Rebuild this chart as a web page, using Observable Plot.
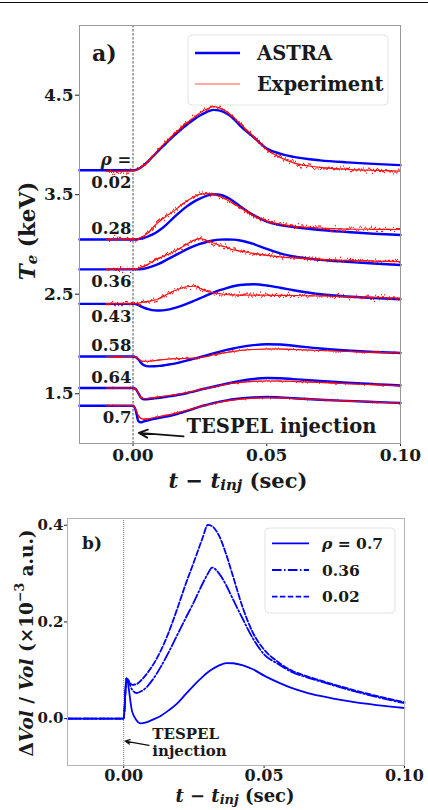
<!DOCTYPE html>
<html>
<head>
<meta charset="utf-8">
<script src="https://cdn.jsdelivr.net/npm/d3@7"></script>
<script src="https://cdn.jsdelivr.net/npm/@observablehq/plot@0.6"></script>
<style>
  html, body { margin: 0; padding: 0; background: #fff; }
  body { width: 428px; height: 810px; position: relative; overflow: hidden; }
  #topRule { position: absolute; left: 0; top: 2px; width: 428px; border-top: 1.5px solid #111; }
  #panelA { position: absolute; left: 0; top: 0; }
  #panelB { position: absolute; left: 0; top: 495px; }
  svg text { font-family: "DejaVu Serif", serif; font-weight: bold; }
</style>
</head>
<body>
<div id="panelA"></div>
<div id="panelB"></div>
<div id="topRule"></div>
<script>
// ---------- panel a: electron temperature, ASTRA vs experiment ----------
const rho = [0.02, 0.28, 0.36, 0.43, 0.58, 0.64, 0.7];
const rhoLabels = ["0.02", "0.28", "0.36", "0.43", "0.58", "0.64", "0.7"];

// time grid of the ASTRA traces (s, relative to injection)
const tA = [-0.02, 0, 0.001, 0.002, 0.003, 0.004, 0.006, 0.008, 0.010, 0.0125, 0.015, 0.0175, 0.020, 0.0225,
  0.025, 0.0275, 0.030, 0.0325, 0.035, 0.0375, 0.040, 0.045, 0.050, 0.055, 0.060, 0.070, 0.080, 0.090, 0.100];
// ASTRA Te (keV)
const astra002 = [3.745, 3.745, 3.748, 3.758, 3.775, 3.795, 3.845, 3.90, 3.955, 4.02, 4.085, 4.145, 4.20, 4.25,
  4.295, 4.33, 4.352, 4.345, 4.315, 4.265, 4.195, 4.08, 3.965, 3.912, 3.88, 3.845, 3.825, 3.81, 3.797];
const astra028 = [3.05, 3.05, 3.05, 3.053, 3.058, 3.065, 3.085, 3.11, 3.145, 3.20, 3.265, 3.325, 3.38, 3.425,
  3.46, 3.488, 3.505, 3.50, 3.475, 3.435, 3.385, 3.295, 3.23, 3.195, 3.175, 3.145, 3.125, 3.108, 3.095];
const astra036 = [2.75, 2.75, 2.75, 2.75, 2.752, 2.756, 2.77, 2.787, 2.81, 2.845, 2.88, 2.915, 2.95, 2.98,
  3.005, 3.025, 3.04, 3.048, 3.05, 3.048, 3.04, 3.005, 2.955, 2.91, 2.88, 2.845, 2.825, 2.808, 2.794];
const astra043 = [2.403, 2.403, 2.40, 2.39, 2.378, 2.365, 2.348, 2.338, 2.336, 2.342, 2.357, 2.378, 2.402, 2.43,
  2.458, 2.488, 2.515, 2.54, 2.562, 2.58, 2.592, 2.60, 2.588, 2.565, 2.54, 2.50, 2.477, 2.462, 2.45];
const astra058 = [1.874, 1.874, 1.868, 1.845, 1.81, 1.788, 1.775, 1.776, 1.78, 1.79, 1.80, 1.815, 1.832, 1.85,
  1.867, 1.886, 1.905, 1.923, 1.94, 1.955, 1.968, 1.988, 1.997, 1.995, 1.982, 1.955, 1.935, 1.92, 1.91];
const astra064 = [1.557, 1.557, 1.548, 1.505, 1.46, 1.445, 1.447, 1.453, 1.46, 1.47, 1.48, 1.492, 1.505, 1.522,
  1.54, 1.555, 1.57, 1.585, 1.60, 1.615, 1.628, 1.648, 1.658, 1.656, 1.647, 1.628, 1.612, 1.597, 1.583];
const astra070 = [1.38, 1.38, 1.335, 1.225, 1.212, 1.222, 1.235, 1.248, 1.258, 1.27, 1.285, 1.305, 1.325, 1.348,
  1.37, 1.388, 1.405, 1.42, 1.433, 1.445, 1.453, 1.463, 1.467, 1.463, 1.455, 1.44, 1.428, 1.417, 1.407];

// time grid of the measured traces
const tE = [-0.01, 0, 0.001, 0.002, 0.003, 0.004, 0.006, 0.008, 0.010, 0.0125, 0.015, 0.0175, 0.020, 0.0225,
  0.025, 0.0275, 0.030, 0.0325, 0.035, 0.0375, 0.040, 0.045, 0.050, 0.055, 0.060, 0.070, 0.080, 0.090, 0.100];
// measured Te (keV)
const exp002 = [3.735, 3.74, 3.745, 3.755, 3.77, 3.79, 3.845, 3.905, 3.965, 4.035, 4.10, 4.16, 4.22, 4.27,
  4.32, 4.36, 4.385, 4.37, 4.335, 4.28, 4.215, 4.085, 3.955, 3.875, 3.82, 3.775, 3.755, 3.745, 3.737];
const exp028 = [3.05, 3.052, 3.055, 3.06, 3.07, 3.085, 3.125, 3.185, 3.235, 3.285, 3.33, 3.385, 3.435, 3.475,
  3.505, 3.51, 3.50, 3.48, 3.45, 3.41, 3.37, 3.29, 3.235, 3.205, 3.185, 3.165, 3.155, 3.152, 3.15];
const exp036 = [2.75, 2.75, 2.752, 2.76, 2.77, 2.78, 2.805, 2.84, 2.865, 2.895, 2.925, 2.96, 3.00, 3.04,
  3.058, 3.04, 3.015, 2.99, 2.97, 2.945, 2.935, 2.91, 2.89, 2.875, 2.865, 2.85, 2.84, 2.833, 2.827];
const exp043 = [2.405, 2.405, 2.405, 2.41, 2.415, 2.42, 2.43, 2.44, 2.46, 2.495, 2.53, 2.555, 2.575, 2.58,
  2.56, 2.53, 2.515, 2.505, 2.497, 2.493, 2.49, 2.49, 2.49, 2.488, 2.487, 2.482, 2.475, 2.468, 2.46];
const exp058 = [1.874, 1.874, 1.868, 1.85, 1.832, 1.826, 1.826, 1.832, 1.84, 1.846, 1.851, 1.853, 1.855, 1.857,
  1.862, 1.875, 1.89, 1.903, 1.915, 1.926, 1.935, 1.945, 1.95, 1.949, 1.945, 1.935, 1.925, 1.916, 1.91];
const exp064 = [1.557, 1.557, 1.548, 1.505, 1.462, 1.452, 1.455, 1.462, 1.47, 1.478, 1.487, 1.497, 1.51, 1.525,
  1.54, 1.555, 1.57, 1.583, 1.595, 1.605, 1.614, 1.624, 1.628, 1.627, 1.624, 1.614, 1.601, 1.59, 1.58];
const exp070 = [1.38, 1.38, 1.345, 1.28, 1.252, 1.245, 1.25, 1.262, 1.272, 1.285, 1.298, 1.315, 1.335, 1.352,
  1.37, 1.386, 1.40, 1.415, 1.428, 1.438, 1.446, 1.456, 1.46, 1.458, 1.452, 1.44, 1.428, 1.417, 1.405];

const teTicks = [1.5, 2.5, 3.5, 4.5];
const timeTicks = [0, 0.05, 0.10];

// ---------- panel b: relative plasma volume change ----------
const tB = [-0.02, 0, 0.001, 0.003, 0.0045, 0.006, 0.008, 0.010, 0.013, 0.016, 0.019, 0.022, 0.025, 0.028,
  0.030, 0.0315, 0.034, 0.0365, 0.039, 0.0425, 0.046, 0.050, 0.055, 0.060, 0.065, 0.070, 0.080, 0.090, 0.100];
const vol070 = [0, 0, 0.083, 0.015, -0.003, -0.010, -0.008, -0.003, 0.005, 0.017, 0.031, 0.050, 0.069, 0.086,
  0.096, 0.102, 0.110, 0.115, 0.1145, 0.110, 0.102, 0.089, 0.075, 0.063, 0.054, 0.047, 0.036, 0.028, 0.022];
const vol036 = [0, 0, 0.083, 0.060, 0.053, 0.056, 0.064, 0.078, 0.105, 0.137, 0.172, 0.207, 0.241, 0.278,
  0.300, 0.3125, 0.300, 0.276, 0.246, 0.205, 0.166, 0.133, 0.113, 0.096, 0.086, 0.077, 0.060, 0.045, 0.032];
const vol002 = [0, 0, 0.083, 0.070, 0.071, 0.078, 0.091, 0.107, 0.138, 0.178, 0.226, 0.277, 0.324, 0.372,
  0.401, 0.398, 0.378, 0.340, 0.293, 0.228, 0.178, 0.143, 0.117, 0.099, 0.088, 0.079, 0.062, 0.047, 0.034];
const volRho = ["0.7", "0.36", "0.02"];
const volTicks = [0, 0.2, 0.4];

// ---------- tables ----------
const astraSets = [astra002, astra028, astra036, astra043, astra058, astra064, astra070];
const expSets = [exp002, exp028, exp036, exp043, exp058, exp064, exp070];
const astraRows = rho.flatMap((r, i) => tA.map((t, j) => ({rho: r, t, te: astraSets[i][j]})));
const expRows = rho.flatMap((r, i) => tE.map((t, j) => ({rho: r, t, te: expSets[i][j]})));
const volSets = [vol070, vol036, vol002];
const volRows = volRho.map((r, i) => tB.map((t, j) => ({rho: r, t, v: volSets[i][j]})));

// each label sits just left of t = 0, above or below its trace's pre-injection level
const labelSide = [-1, 1, -1, -1, 1, 1, -1];
const rhoLabelRows = rho.map((r, i) => ({
  text: rhoLabels[i],
  te: astraSets[i][0] + (labelSide[i] > 0 ? 0.105 : -0.125)
}));
rhoLabelRows.push({text: "ρ =", te: astra002[0] + 0.105});

const SERIF = "'DejaVu Serif', serif";
const BLUE = "#0000ff";
const RED = "#ff0000";
const INK = "#1a1a1a";

// ---------- panel a ----------
const plotA = Plot.plot({
  width: 428, height: 495,
  marginLeft: 79, marginRight: 28, marginTop: 25, marginBottom: 52,
  x: {domain: [-0.02, 0.10]},
  y: {domain: [1.0, 5.2]},
  style: {fontFamily: SERIF, fontWeight: "bold", color: INK, background: "#fff", overflow: "visible"},
  marks: [
    Plot.axisX({ticks: timeTicks, tickFormat: ".2f", tickSize: 3, tickPadding: 2, fontSize: 17, label: null}),
    Plot.axisY({ticks: teTicks, tickFormat: ".1f", tickSize: 4, tickPadding: 2, fontSize: 17, label: null}),
    Plot.ruleX([0], {stroke: "#222", strokeWidth: 0.8, strokeDasharray: "2.5,1.5"}),
    Plot.line(astraRows, {x: "t", y: "te", z: "rho", stroke: BLUE, strokeWidth: 2.4, curve: "monotone-x"}),
    Plot.line(expRows.filter(d => d.rho < 0.5), {x: "t", y: "te", z: "rho", stroke: RED, strokeWidth: 1.2,
      strokeOpacity: 0.9, curve: "monotone-x", ariaDescription: "exp-core"}),
    Plot.line(expRows.filter(d => d.rho > 0.5), {x: "t", y: "te", z: "rho", stroke: RED, strokeWidth: 1.1,
      strokeOpacity: 0.85, curve: "monotone-x", ariaDescription: "exp-edge"}),
    Plot.text(rhoLabelRows, {x: -0.0006, y: "te", text: "text", textAnchor: "end", fontSize: 16.5,
      fontWeight: "bold", fill: INK}),
    Plot.arrow([{x1: 0.0189, y1: 1.072, x2: 0.0022, y2: 1.106}], {x1: "x1", y1: "y1", x2: "x2", y2: "y2",
      stroke: "#111", strokeWidth: 1.8, headLength: 8, headAngle: 50}),
    Plot.text(["TESPEL injection"], {x: 0.0200, y: 1.172, textAnchor: "start", fontSize: 19.5, fontWeight: "bold",
      fill: INK}),
    Plot.frame({stroke: "#999", strokeWidth: 1})
  ]
});
document.getElementById("panelA").append(plotA);

// measurement noise look for the experimental traces: a jittered copy merged with the trace
const svgA = d3.select(plotA);
const defsA = svgA.append("defs");
function jitterFilter(defs, id, scale, seed, w, h) {
  const f = defs.append("filter").attr("id", id).attr("filterUnits", "userSpaceOnUse")
    .attr("x", 0).attr("y", 0).attr("width", w).attr("height", h)
    .attr("color-interpolation-filters", "sRGB");
  f.append("feTurbulence").attr("type", "fractalNoise").attr("baseFrequency", "0.6 0.015")
    .attr("numOctaves", 2).attr("seed", seed).attr("result", "noise");
  f.append("feColorMatrix").attr("in", "noise").attr("type", "matrix")
    .attr("values", "0 0 0 0 0.5  0 1 0 0 0  0 0 1 0 0  0 0 0 0 1").attr("result", "map");
  f.append("feDisplacementMap").attr("in", "SourceGraphic").attr("in2", "map").attr("scale", scale)
    .attr("xChannelSelector", "R").attr("yChannelSelector", "G").attr("result", "shifted");
  const m = f.append("feMerge");
  m.append("feMergeNode").attr("in", "SourceGraphic");
  m.append("feMergeNode").attr("in", "shifted");
}
jitterFilter(defsA, "jitterCore", 10, 4, 428, 495);
jitterFilter(defsA, "jitterEdge", 3, 9, 428, 495);
svgA.selectAll("g[aria-description='exp-core']").attr("filter", "url(#jitterCore)");
svgA.selectAll("g[aria-description='exp-edge']").attr("filter", "url(#jitterEdge)");

// rho = label in italics
svgA.selectAll("text").filter(function () { return this.textContent === "ρ ="; })
  .style("font-style", "italic");

// panel tag
svgA.append("text").attr("x", 92).attr("y", 53).attr("text-anchor", "start").attr("dominant-baseline", "central")
  .style("font-size", "22px").attr("fill", INK).text("a)");

// legend
const legA = svgA.append("g");
legA.append("rect").attr("x", 188).attr("y", 35).attr("width", 200).attr("height", 70).attr("rx", 4)
  .attr("fill", "#fff").attr("fill-opacity", 0.85).attr("stroke", "#e3e3e3");
legA.append("line").attr("x1", 195).attr("x2", 240).attr("y1", 53).attr("y2", 53)
  .attr("stroke", BLUE).attr("stroke-width", 2.4);
legA.append("line").attr("x1", 195).attr("x2", 240).attr("y1", 84).attr("y2", 84)
  .attr("stroke", RED).attr("stroke-opacity", 0.45).attr("stroke-width", 1.4);
legA.append("text").attr("x", 257).attr("y", 53).attr("text-anchor", "start").attr("dominant-baseline", "central")
  .style("font-size", "19.5px").attr("fill", INK).text("ASTRA");
legA.append("text").attr("x", 257).attr("y", 84).attr("text-anchor", "start").attr("dominant-baseline", "central")
  .style("font-size", "19.5px").attr("fill", INK).text("Experiment");

// axis titles
const yTitleA = svgA.append("text").attr("transform", "translate(27,231) rotate(-90)")
  .attr("text-anchor", "middle").attr("dominant-baseline", "central").attr("fill", INK)
  .style("font-size", "21.5px");
yTitleA.append("tspan").style("font-style", "italic").text("T");
yTitleA.append("tspan").style("font-style", "italic").style("font-size", "15px").attr("dy", 5).text("e");
yTitleA.append("tspan").attr("dy", -5).text(" (keV)");

function timeTitle(svg, cx, cy, size, subSize, shift) {
  const t = svg.append("text").attr("x", cx).attr("y", cy).attr("text-anchor", "middle")
    .attr("dominant-baseline", "central").attr("fill", INK).style("font-size", size + "px");
  t.append("tspan").style("font-style", "italic").text("t");
  t.append("tspan").text(" − ");
  t.append("tspan").style("font-style", "italic").text("t");
  t.append("tspan").style("font-style", "italic").style("font-size", subSize + "px").attr("dy", shift).text("inj");
  t.append("tspan").attr("dy", -shift).text(" (sec)");
}
timeTitle(svgA, 238, 480, 21, 15, 5);

// ---------- panel b ----------
const dashes = {"0.7": null, "0.36": "9.6,2.4,1.5,2.4", "0.02": "5.5,2.4"};
const plotB = Plot.plot({
  width: 428, height: 315,
  marginLeft: 67, marginRight: 24, marginTop: 23, marginBottom: 45,
  x: {domain: [-0.02, 0.10]},
  y: {domain: [-0.097, 0.414]},
  style: {fontFamily: SERIF, fontWeight: "bold", color: INK, background: "#fff", overflow: "visible"},
  marks: [
    Plot.axisX({ticks: timeTicks, tickFormat: ".2f", tickSize: 3, tickPadding: 1, fontSize: 16, label: null}),
    Plot.axisY({ticks: volTicks, tickFormat: ".1f", tickSize: 3, tickPadding: 1, fontSize: 15, label: null}),
    Plot.ruleX([0], {stroke: "#444", strokeWidth: 0.7, strokeDasharray: "1,1"}),
    ...volRows.map(rows => Plot.line(rows, {x: "t", y: "v", stroke: BLUE, strokeWidth: 1.8, curve: "monotone-x",
      strokeDasharray: dashes[rows[0].rho]})),
    Plot.arrow([{x1: 0.009, y1: -0.0553, x2: 0.0005, y2: -0.0464}], {x1: "x1", y1: "y1", x2: "x2", y2: "y2",
      stroke: "#111", strokeWidth: 1.3, headLength: 6, headAngle: 50}),
    Plot.text(["TESPEL"], {x: 0.0102, y: -0.0312, textAnchor: "start", fontSize: 15, fontWeight: "bold", fill: INK}),
    Plot.text(["injection"], {x: 0.0102, y: -0.0680, textAnchor: "start", fontSize: 15, fontWeight: "bold", fill: INK}),
    Plot.frame({stroke: "#b3b3b3", strokeWidth: 1})
  ]
});
document.getElementById("panelB").append(plotB);

const svgB = d3.select(plotB);
svgB.append("text").attr("x", 82).attr("y", 48).attr("text-anchor", "start").attr("dominant-baseline", "central")
  .style("font-size", "17px").attr("fill", INK).text("b)");

const legB = svgB.append("g");
legB.append("rect").attr("x", 265).attr("y", 33).attr("width", 130).attr("height", 85).attr("rx", 4)
  .attr("fill", "#fff").attr("fill-opacity", 0.85).attr("stroke", "#e3e3e3");
volRho.forEach((r, i) => {
  const y = 48.3 + i * 26.7;
  legB.append("line").attr("x1", 272).attr("x2", 309).attr("y1", y).attr("y2", y)
    .attr("stroke", BLUE).attr("stroke-width", 1.8).attr("stroke-dasharray", dashes[r]);
  const t = legB.append("text").attr("x", 322).attr("y", y).attr("text-anchor", "start")
    .attr("dominant-baseline", "central").style("font-size", "15.5px").attr("fill", INK);
  if (i === 0) {
    t.append("tspan").style("font-style", "italic").text("ρ");
    t.append("tspan").text(" = " + r);
  } else {
    t.text(r);
  }
});

const yTitleB = svgB.append("text").attr("transform", "translate(26,148) rotate(-90)")
  .attr("text-anchor", "middle").attr("dominant-baseline", "central").attr("fill", INK)
  .style("font-size", "18.5px");
yTitleB.append("tspan").text("Δ");
yTitleB.append("tspan").style("font-style", "italic").text("Vol");
yTitleB.append("tspan").text(" / ");
yTitleB.append("tspan").style("font-style", "italic").text("Vol");
yTitleB.append("tspan").text(" (×10");
yTitleB.append("tspan").style("font-size", "12.5px").attr("dy", -7).text("−3");
yTitleB.append("tspan").attr("dy", 7).text(" a.u.)");

timeTitle(svgB, 235, 300, 18, 13, 4);
</script>
</body>
</html>
